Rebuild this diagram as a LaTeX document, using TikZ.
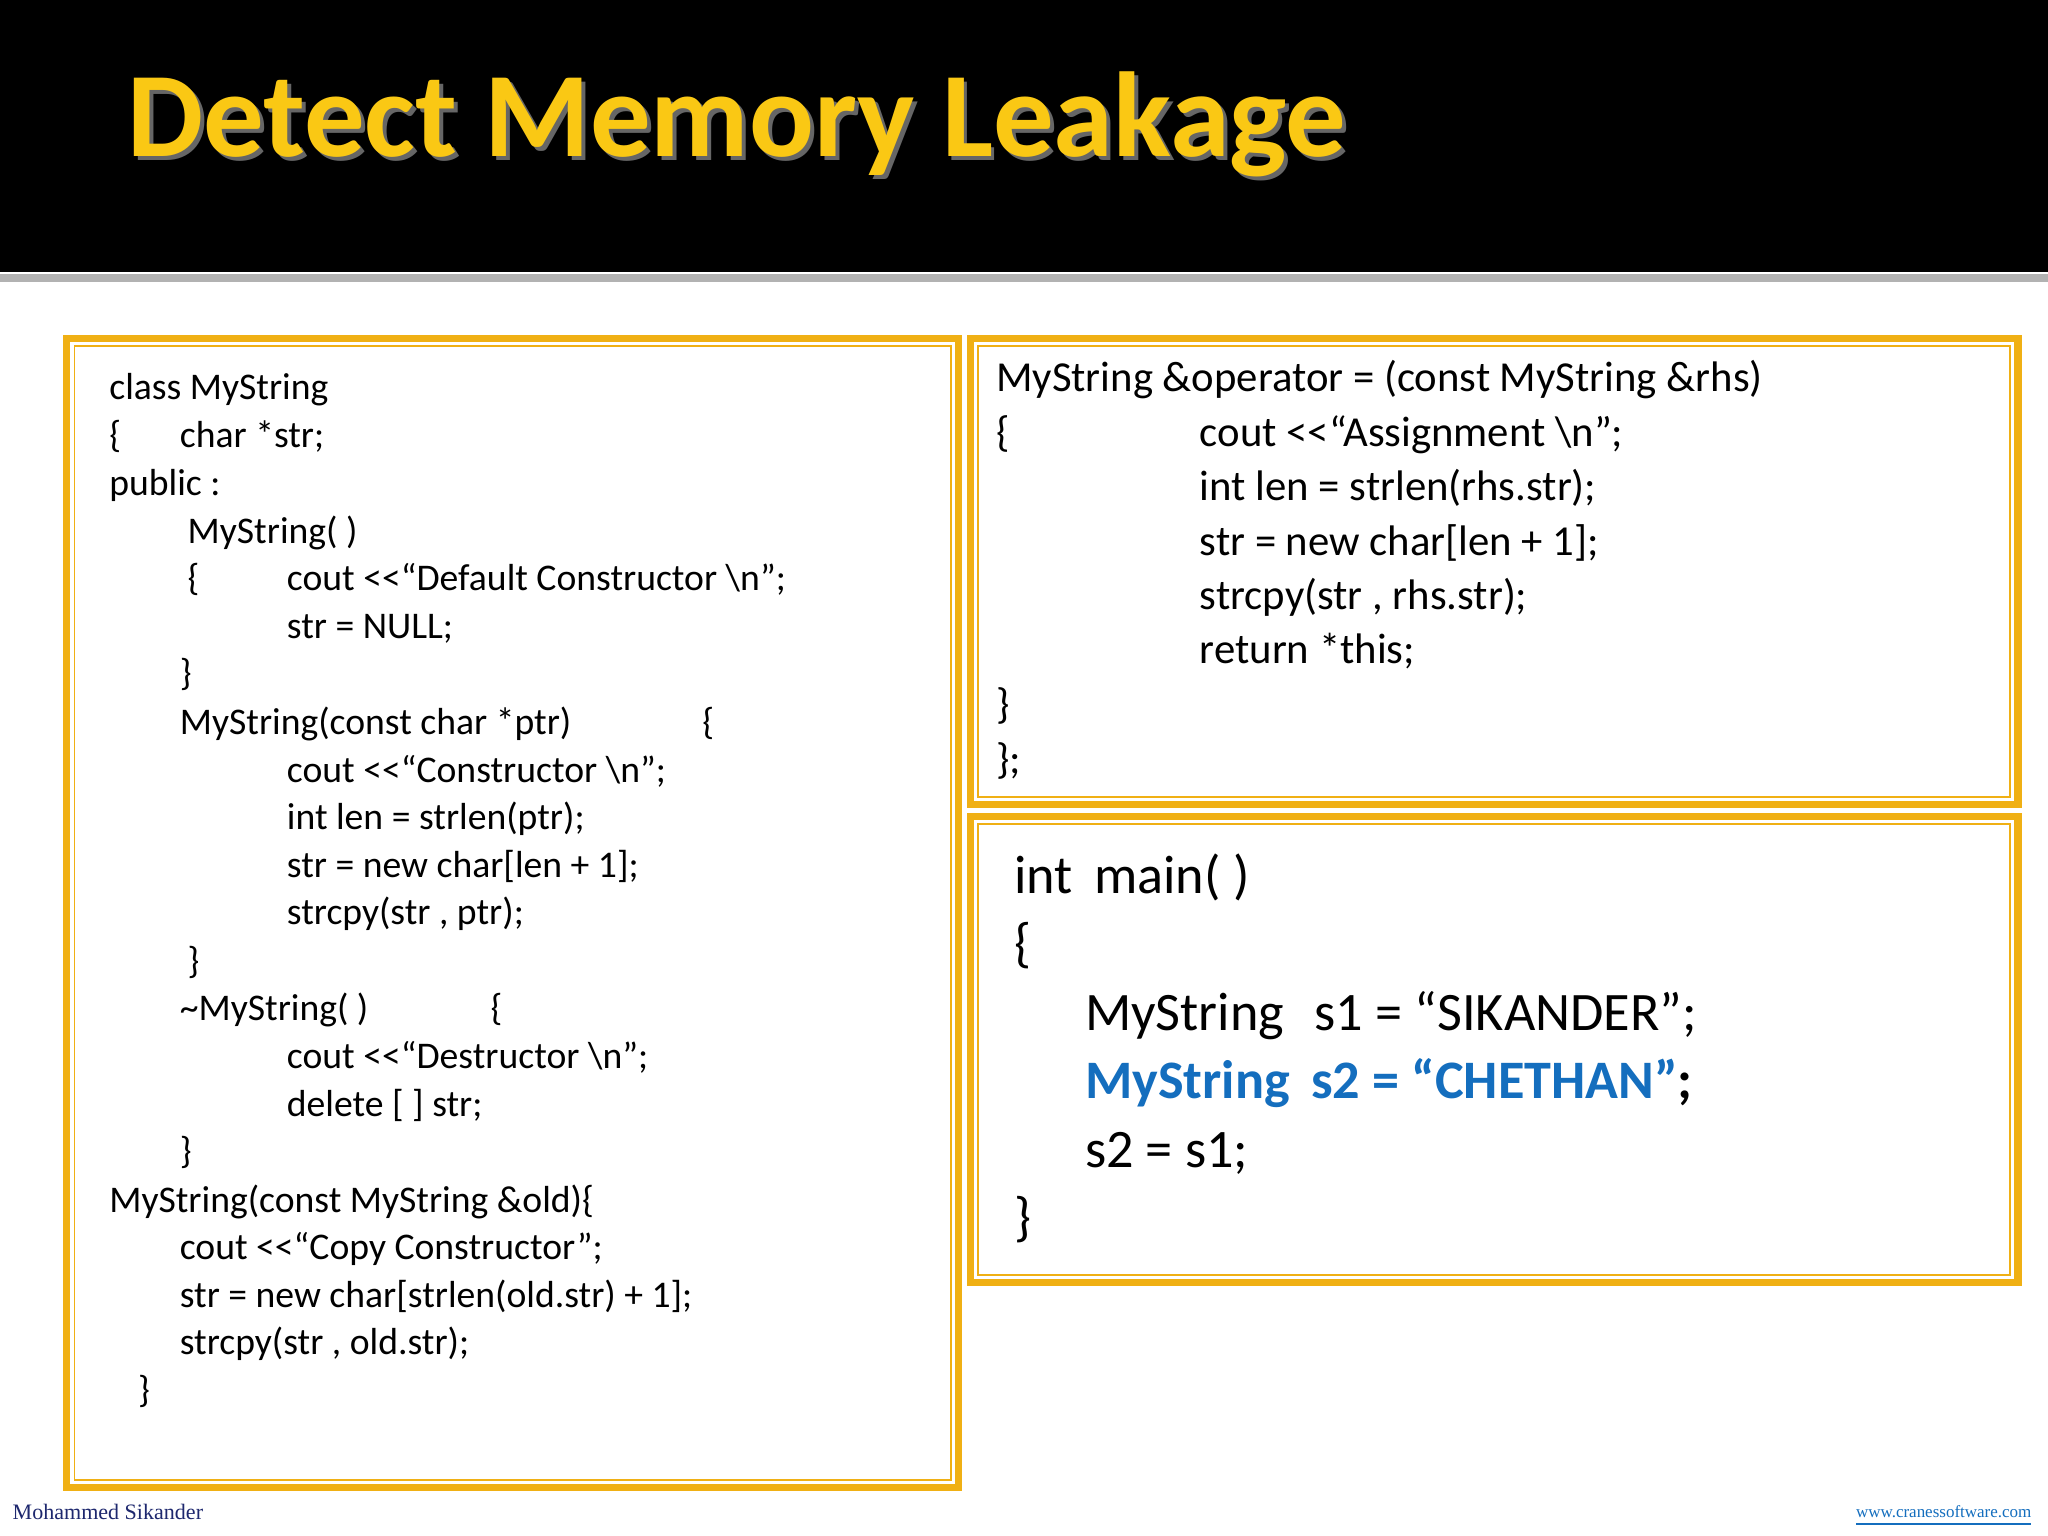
\documentclass[tikz,border=0pt]{standalone}
\usepackage{fontspec}
\setmainfont{Carlito}
\newfontfamily\serifft{Liberation Serif}
\definecolor{ybox}{RGB}{240,176,20}
\definecolor{ytitle}{RGB}{250,200,20}
\definecolor{navy}{RGB}{30,40,110}
\definecolor{cblue}{RGB}{20,110,190}
\newcommand{\shl}{{<}{<}}
\begin{document}
\begin{tikzpicture}[x=0.01cm,y=-0.01cm,
  ln/.style={anchor=base west,inner sep=0pt,font=\fontsize{8.2}{9}\selectfont},
  rn/.style={anchor=base west,inner sep=0pt,font=\fontsize{9.3}{10}\selectfont},
  bn/.style={anchor=base west,inner sep=0pt,font=\fontsize{11.8}{13}\selectfont},
  outerb/.style={draw=ybox,line width=1.6pt},
  innerb/.style={draw=ybox,line width=0.4pt}]
\useasboundingbox (0,0) rectangle (1568,1176);
\fill[white] (0,0) rectangle (1568,1176);
\fill[black] (0,0) rectangle (1568,208);
\fill[gray!60] (0,210) rectangle (1568,216);
\node[anchor=base west,inner sep=0pt,text=black!60,font=\fontsize{26.3}{30}\selectfont\bfseries] (tsh) at (100,123) {Detect Memory Leakage};
\node[anchor=base west,inner sep=0pt,text=ytitle,font=\fontsize{26.3}{30}\selectfont\bfseries] (title) at (97,120) {Detect Memory Leakage};
% boxes
\draw[outerb] (51,259) rectangle (734,1139);
\draw[innerb] (57,265) rectangle (728,1133);
\draw[outerb] (743,259) rectangle (1545,616);
\draw[innerb] (749,265) rectangle (1539,610);
\draw[outerb] (743,625) rectangle (1545,982);
\draw[innerb] (749,631) rectangle (1539,976);
% left code
\node[ln] (l1) at (83,306) {class MyString};
\node[ln] (l2) at (83,343) {\{};
\node[ln] (l2b) at (137,343) {char *str;};
\node[ln] (l3) at (83,379) {public :};
\node[ln] (l4) at (143,416) {MyString( )};
\node[ln] (l5) at (143,452) {\{};
\node[ln] (l5b) at (219,452) {cout \shl“Default Constructor \textbackslash n”;};
\node[ln] (l6) at (219,489) {str = NULL;};
\node[ln] (l7) at (137,525) {\}};
\node[ln] (l8) at (137,562) {MyString(const char *ptr)};
\node[ln] (l8b) at (537,562) {\{};
\node[ln] (l9) at (219,599) {cout \shl“Constructor \textbackslash n”;};
\node[ln] (l10) at (219,635) {int len = strlen(ptr);};
\node[ln] (l11) at (219,672) {str = new char[len + 1];};
\node[ln] (l12) at (219,708) {strcpy(str , ptr);};
\node[ln] (l13) at (143,745) {\}};
\node[ln] (l14) at (137,781) {\textasciitilde MyString( )};
\node[ln] (l14b) at (375,781) {\{};
\node[ln] (l15) at (219,818) {cout \shl“Destructor \textbackslash n”;};
\node[ln] (l16) at (219,855) {delete [ ] str;};
\node[ln] (l17) at (137,891) {\}};
\node[ln] (l18) at (83,928) {MyString(const MyString \&old)\{};
\node[ln] (l19) at (137,964) {cout \shl“Copy Constructor”;};
\node[ln] (l20) at (137,1001) {str = new char[strlen(old.str) + 1];};
\node[ln] (l21) at (137,1037) {strcpy(str , old.str);};
\node[ln] (l22) at (105,1074) {\}};
% right top
\node[rn] (r1) at (762,300) {MyString \&operator = (const MyString \&rhs)};
\node[rn] (r2) at (762,342) {\{};
\node[rn] (r2b) at (918,342) {cout \shl“Assignment \textbackslash n”;};
\node[rn] (r3) at (918,383) {int len = strlen(rhs.str);};
\node[rn] (r4) at (918,425) {str = new char[len + 1];};
\node[rn] (r5) at (918,467) {strcpy(str , rhs.str);};
\node[rn] (r6) at (918,508) {return *this;};
\node[rn] (r7) at (762,550) {\}};
\node[rn] (r8) at (762,592) {\};};
% right bottom
\node[bn] (b1) at (776,684) {int\, main( )};
\node[bn] (b2) at (776,736) {\{};
\node[bn] (b3) at (830,789) {MyString\,\, s1 = “SIKANDER”;};
\node[bn,text=cblue,font=\fontsize{11.8}{13}\selectfont\bfseries] (b4) at (830,841) {MyString\, s2 = “CHETHAN”\textcolor{black}{;}};
\node[bn] (b5) at (830,894) {s2 = s1;};
\node[bn] (b6) at (776,946) {\}};
% footer
\node[anchor=base west,inner sep=0pt,text=navy,font=\serifft\fontsize{4.8}{5}\selectfont] (f1) at (9,1163) {Mohammed\ Sikander};
\node[anchor=base east,inner sep=0pt,text=cblue,font=\serifft\fontsize{3.7}{5}\selectfont] (f2) at (1556,1162) {\underline{www.cranessoftware.com}};
\end{tikzpicture}
\end{document}
